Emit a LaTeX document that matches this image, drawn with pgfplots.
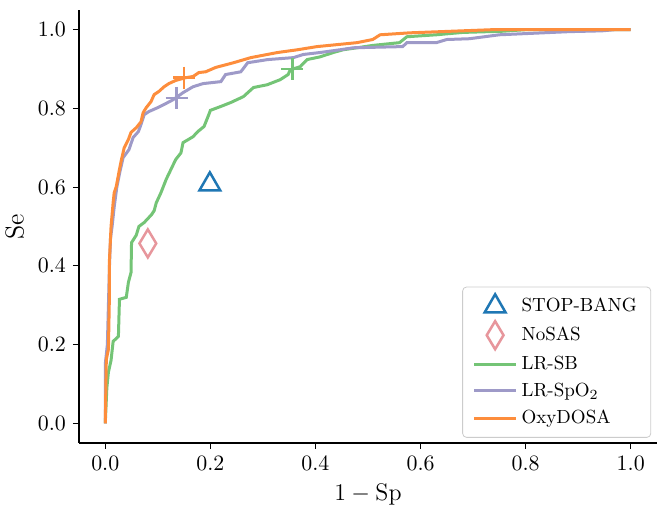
\documentclass[border=0pt]{standalone}
\usepackage{pgfplots}
\pgfplotsset{compat=1.18}
\definecolor{cblue}{HTML}{1F77B4}
\definecolor{cpink}{HTML}{E7969C}
\definecolor{cgreen}{HTML}{74C476}
\definecolor{cpurple}{HTML}{9E9AC8}
\definecolor{corange}{HTML}{FD8D3C}
\begin{document}
\begin{tikzpicture}
\begin{axis}[
  scale only axis,
  width=289pt, height=216.5pt,
  xmin=-0.05, xmax=1.05, ymin=-0.05, ymax=1.05,
  axis x line*=bottom, axis y line*=left,
  axis line style={line width=0.6pt},
  tick align=outside, tick style={black, line width=0.6pt, major tick length=3pt},
  xtick={0,0.2,0.4,0.6,0.8,1.0}, ytick={0,0.2,0.4,0.6,0.8,1.0},
  minor tick num=0,
  tick label style={font=\fontsize{10.5}{12}\selectfont},
  xticklabel style={/pgf/number format/.cd, fixed, fixed zerofill, precision=1},
  yticklabel style={/pgf/number format/.cd, fixed, fixed zerofill, precision=1},
  label style={font=\fontsize{13}{15}\selectfont},
  xlabel={$1-\mathrm{Sp}$}, ylabel={Se},
  legend cell align=left,
  legend image code/.code={\draw[mark repeat=2,mark phase=2,#1] plot coordinates {(0pt,0pt) (10.5pt,0pt) (21pt,0pt)};},
  legend style={at={(0.99,0.012)}, anchor=south east, draw=black!20, rounded corners=2pt,
    fill=white, fill opacity=0.8, text opacity=1, font=\fontsize{9.5}{11}\selectfont,
    row sep=1.3pt, inner xsep=5pt, inner ysep=3.5pt},
]
\addplot[only marks, mark=triangle, mark size=6pt, cblue, mark options={line width=1.25pt, fill=none}] coordinates {(0.199,0.607)};
\addlegendentry{STOP-BANG}
\addplot[only marks, mark=diamond, mark size=7pt, cpink, mark options={line width=1.25pt, fill=none, xscale=0.8}] coordinates {(0.081,0.457)};
\addlegendentry{NoSAS}
\addplot[cgreen, line width=1.5pt] coordinates {
(0,0) (0.003,0.09) (0.006,0.13) (0.011,0.16) (0.015,0.208) (0.025,0.221) (0.027,0.315) (0.04,0.32) (0.044,0.358) (0.049,0.383) (0.05,0.459) (0.059,0.478) (0.064,0.5) (0.074,0.51) (0.088,0.53) (0.093,0.54) (0.097,0.56) (0.106,0.586) (0.116,0.62) (0.125,0.645) (0.134,0.67) (0.144,0.687) (0.148,0.713) (0.167,0.728) (0.176,0.741) (0.188,0.754) (0.197,0.784) (0.2,0.795) (0.22,0.805) (0.239,0.815) (0.263,0.83) (0.282,0.853) (0.308,0.86) (0.333,0.873) (0.348,0.886) (0.352,0.898) (0.371,0.906) (0.384,0.924) (0.409,0.931) (0.434,0.942) (0.453,0.949) (0.479,0.954) (0.509,0.96) (0.56,0.967) (0.574,0.982) (0.63,0.987) (0.68,0.993) (0.756,0.996) (0.8,1.0) (1,1)};
\addlegendentry{LR-SB}
\addplot[cpurple, line width=1.5pt] coordinates {
(0,0) (0,0.15) (0.004,0.2) (0.006,0.3) (0.008,0.4) (0.01,0.47) (0.013,0.5) (0.017,0.55) (0.022,0.6) (0.028,0.64) (0.034,0.675) (0.045,0.695) (0.053,0.726) (0.063,0.741) (0.068,0.759) (0.074,0.784) (0.083,0.792) (0.1,0.802) (0.112,0.81) (0.129,0.822) (0.148,0.84) (0.167,0.855) (0.186,0.863) (0.22,0.868) (0.229,0.886) (0.258,0.893) (0.271,0.916) (0.309,0.924) (0.358,0.929) (0.377,0.937) (0.409,0.942) (0.447,0.949) (0.472,0.954) (0.566,0.957) (0.574,0.967) (0.63,0.967) (0.65,0.975) (0.693,0.977) (0.75,0.987) (0.883,0.995) (0.945,0.997) (0.97,1.0) (1,1)};
\addlegendentry{LR-SpO$_2$}
\addplot[corange, line width=1.5pt] coordinates {
(0,0) (0.002,0.162) (0.006,0.188) (0.008,0.332) (0.008,0.416) (0.011,0.5) (0.015,0.561) (0.017,0.586) (0.021,0.602) (0.027,0.645) (0.03,0.665) (0.036,0.7) (0.044,0.721) (0.049,0.739) (0.059,0.751) (0.068,0.766) (0.072,0.789) (0.078,0.802) (0.087,0.817) (0.093,0.835) (0.102,0.843) (0.112,0.855) (0.121,0.863) (0.134,0.871) (0.153,0.878) (0.167,0.881) (0.178,0.891) (0.191,0.893) (0.21,0.904) (0.244,0.916) (0.277,0.929) (0.328,0.942) (0.366,0.949) (0.403,0.957) (0.441,0.962) (0.479,0.967) (0.509,0.975) (0.523,0.987) (0.58,0.992) (0.737,1.0) (1,1)};
\addlegendentry{OxyDOSA}
\addplot[forget plot, only marks, mark=+, mark size=5.5pt, cgreen, mark options={line width=1.25pt}] coordinates {(0.356,0.90)};
\addplot[forget plot, only marks, mark=+, mark size=5.5pt, cpurple, mark options={line width=1.25pt}] coordinates {(0.136,0.827)};
\addplot[forget plot, only marks, mark=+, mark size=5.5pt, corange, mark options={line width=1.25pt}] coordinates {(0.150,0.878)};
\end{axis}
\pgfresetboundingbox
\path[use as bounding box] ([shift={(-39.5pt,-31.5pt)}]current axis.south west) rectangle ([shift={(1pt,5pt)}]current axis.north east);
\end{tikzpicture}
\end{document}
